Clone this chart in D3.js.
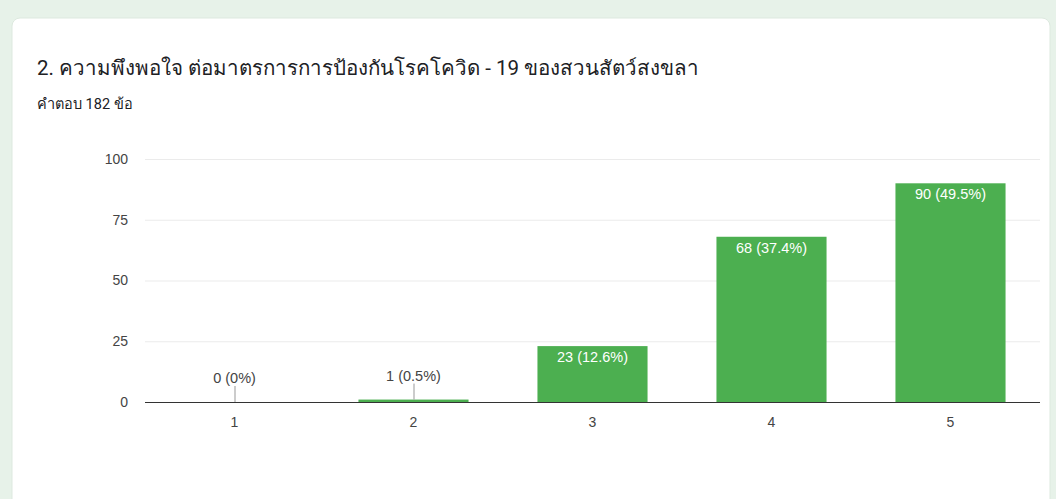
<!DOCTYPE html>
<html lang="th">
<head>
<meta charset="UTF-8">
<title>Bar chart</title>
<style>
  html, body { margin: 0; padding: 0; background: #e7f2e9; }
  svg { display: block; }
  .axis .domain { display: none; }
  .grid line { stroke: #ebebeb; }
</style>
</head>
<body>
<svg width="1056" height="499"></svg>
<script src="https://d3js.org/d3.v7.min.js"></script>
<script>
var categories = ["1", "2", "3", "4", "5"];
var counts = [0, 1, 23, 68, 90];
var percents = ["0%", "0.5%", "12.6%", "37.4%", "49.5%"];
var yTicks = [0, 25, 50, 75, 100];

var svg = d3.select("svg");

// card
svg.append("rect")
    .attr("x", 12).attr("y", 18)
    .attr("width", 1038).attr("height", 500)
    .attr("rx", 8)
    .attr("fill", "#fff")
    .attr("stroke", "#dde9df");

svg.append("text")
    .attr("x", 37).attr("y", 75)
    .attr("font-family", "Roboto, 'Noto Sans', sans-serif")
    .attr("font-size", 20.5)
    .attr("fill", "#202124")
    .text("2. ความพึงพอใจ ต่อมาตรการการป้องกันโรคโควิด - 19 ของสวนสัตว์สงขลา");

svg.append("text")
    .attr("x", 37).attr("y", 109)
    .attr("font-family", "Roboto, 'Noto Sans', sans-serif")
    .attr("font-size", 14.5)
    .attr("fill", "#202124")
    .text("คำตอบ 182 ข้อ");

var plotLeft = 145, plotRight = 1040, plotTop = 159, plotBottom = 402;

var x = d3.scaleBand()
    .domain(categories)
    .range([plotLeft, plotRight])
    .paddingInner(0.385)
    .paddingOuter(0.1925);

var y = d3.scaleLinear()
    .domain([0, 100])
    .range([plotBottom, plotTop]);

var g = svg.append("g")
    .attr("font-family", "Arial, 'Liberation Sans', sans-serif");

// gridlines
g.append("g")
    .attr("class", "grid")
    .selectAll("line")
    .data(yTicks.slice(1))
    .enter().append("line")
    .attr("x1", plotLeft).attr("x2", plotRight)
    .attr("y1", function(d){ return y(d) + 0.5; })
    .attr("y2", function(d){ return y(d) + 0.5; });

// y axis labels
g.append("g")
    .attr("class", "axis")
    .attr("transform", "translate(" + plotLeft + ",0)")
    .call(d3.axisLeft(y).tickValues(yTicks).tickSize(0).tickPadding(17))
    .call(function(s){
        s.selectAll("text").attr("font-size", 14).attr("fill", "#444").attr("font-family", "Arial, 'Liberation Sans', sans-serif");
    });

var data = categories.map(function(c, i){ return {cat: c, value: counts[i], pct: percents[i]}; });

g.selectAll(".bar")
    .data(data)
    .enter().append("rect")
    .attr("class", "bar")
    .attr("x", function(d){ return x(d.cat); })
    .attr("y", function(d){ return y(d.value); })
    .attr("width", x.bandwidth())
    .attr("height", function(d){ return plotBottom - y(d.value); })
    .attr("fill", "#4caf50");

// baseline
g.append("line")
    .attr("x1", plotLeft).attr("x2", plotRight)
    .attr("y1", plotBottom + 0.5).attr("y2", plotBottom + 0.5)
    .attr("stroke", "#333");

// x axis labels
g.append("g")
    .attr("class", "axis")
    .attr("transform", "translate(0," + plotBottom + ")")
    .call(d3.axisBottom(x).tickSize(0).tickPadding(15))
    .call(function(s){
        s.selectAll("text").attr("font-size", 14).attr("fill", "#444").attr("font-family", "Arial, 'Liberation Sans', sans-serif");
    });

// value labels
data.forEach(function(d){
    var cx = x(d.cat) + x.bandwidth() / 2;
    var label = d.value + " (" + d.pct + ")";
    var h = plotBottom - y(d.value);
    if (h > 25) {
        g.append("text")
            .attr("x", cx).attr("y", y(d.value) + 16)
            .attr("text-anchor", "middle")
            .attr("font-size", 14.5)
            .attr("fill", "#fff")
            .text(label);
    } else {
        g.append("line")
            .attr("x1", cx + 0.5).attr("x2", cx + 0.5)
            .attr("y1", y(d.value)).attr("y2", y(d.value) - 16)
            .attr("stroke", "#999");
        g.append("text")
            .attr("x", cx).attr("y", y(d.value) - 19)
            .attr("text-anchor", "middle")
            .attr("font-size", 14.5)
            .attr("fill", "#444")
            .text(label);
    }
});
</script>
</body>
</html>
